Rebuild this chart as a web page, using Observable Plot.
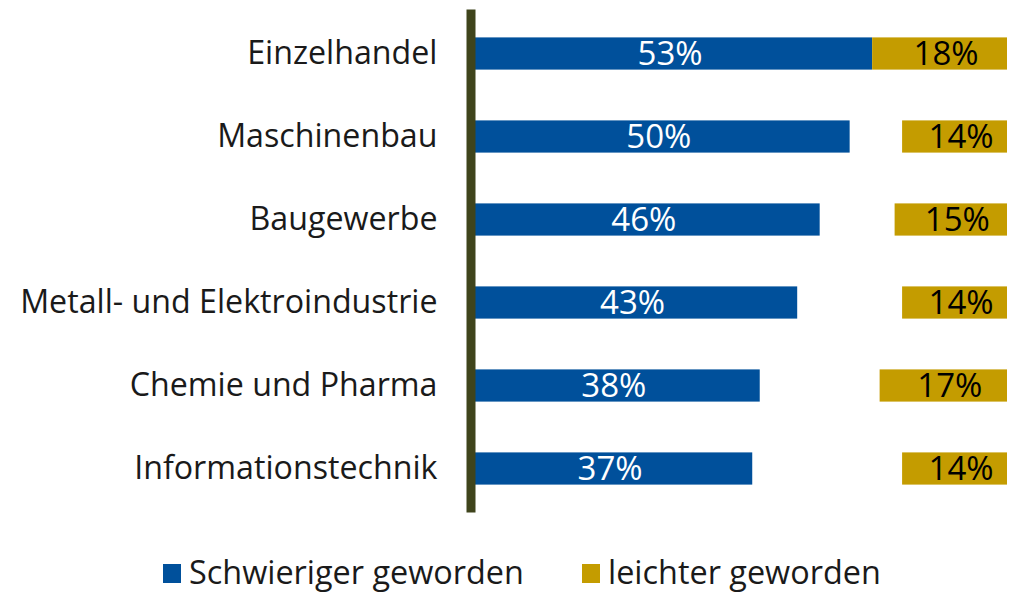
<!DOCTYPE html>
<html>
<head>
<meta charset="utf-8">
<script src="https://cdn.jsdelivr.net/npm/d3@7"></script>
<script src="https://cdn.jsdelivr.net/npm/@observablehq/plot@0.6"></script>
<style>
  body { margin: 0; background: #fff; font-family: "Open Sans", sans-serif; }
  #chart svg { display: block; }
  #legend { position: relative; width: 1019px; height: 62px; }
  .sw { position: absolute; top: 34px; width: 18px; height: 19px; }
  .lt { position: absolute; top: 25.3px; font-size: 32.4px; line-height: 32px; color: #1a1a1a; white-space: nowrap; }
</style>
</head>
<body>
<div id="chart"></div>
<div id="legend"></div>
<script>
const categories = ["Einzelhandel", "Maschinenbau", "Baugewerbe", "Metall- und Elektroindustrie", "Chemie und Pharma", "Informationstechnik"];
const harder = [53, 50, 46, 43, 38, 37];
const easier = [18, 14, 15, 14, 17, 14];
const seriesNames = ["Schwieriger geworden", "leichter geworden"];
const colors = ["#00509b", "#c49c00"];

const END = 71; // right end of the scale, where the gold bars are aligned
const rows = categories.map((c, i) => ({category: c, harder: harder[i], easier: easier[i]}));
const inset = 25.4;

const chart = Plot.plot({
  width: 1019,
  height: 530,
  marginLeft: 475,
  marginRight: 12,
  marginTop: 9.6,
  marginBottom: 17.6,
  x: {domain: [0, END], axis: null},
  y: {domain: categories, padding: 0, axis: null},
  style: {fontFamily: "Open Sans", fontSize: "32px", color: "#1a1a1a", background: "#fff"},
  marks: [
    Plot.barX(rows, {y: "category", x1: 0, x2: "harder", fill: colors[0], insetTop: inset, insetBottom: inset}),
    Plot.barX(rows, {y: "category", x1: d => END - d.easier, x2: END, fill: colors[1], insetTop: inset, insetBottom: inset}),
    Plot.text(rows, {y: "category", x: d => d.harder / 2, text: d => d.harder + "%", fill: "white", fontSize: 33, dx: -4}),
    Plot.text(rows, {y: "category", x: d => END - d.easier / 2, text: d => d.easier + "%", fill: "black", fontSize: 33, dx: 6}),
    Plot.axisY({tickSize: 0, tickPadding: 38, fontSize: 32.2, label: null, fill: "#1a1a1a"}),
    Plot.ruleX([0], {dx: -4.5, strokeWidth: 9, stroke: "#3f441c"})
  ]
});
document.getElementById("chart").appendChild(chart);

const legend = document.getElementById("legend");
const swLeft = [163, 582];
const txtLeft = [189, 608];
seriesNames.forEach((name, i) => {
  const sw = document.createElement("div");
  sw.className = "sw";
  sw.style.left = swLeft[i] + "px";
  sw.style.background = colors[i];
  legend.appendChild(sw);
  const t = document.createElement("span");
  t.className = "lt";
  t.style.left = txtLeft[i] + "px";
  t.textContent = name;
  legend.appendChild(t);
});
</script>
</body>
</html>
